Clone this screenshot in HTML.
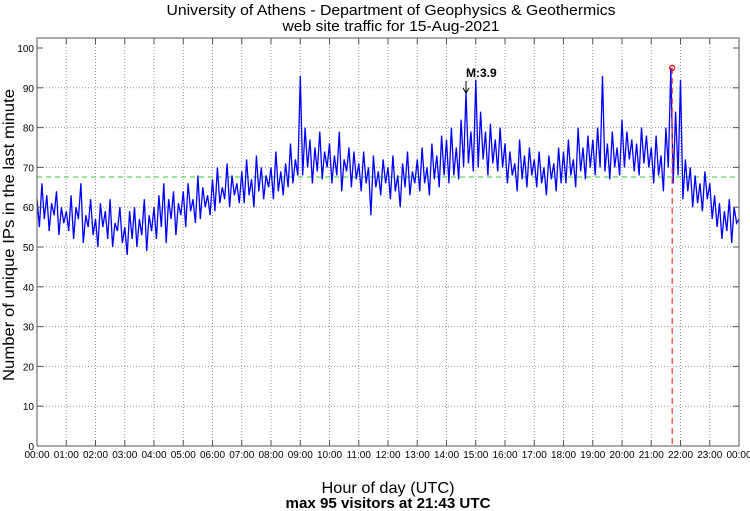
<!DOCTYPE html>
<html><head><meta charset="utf-8"><style>
html,body{margin:0;padding:0;background:#fff;}
svg{display:block;font-family:"Liberation Sans Narrow","Liberation Sans",sans-serif;}
</style></head><body>
<svg id="chart" width="750" height="511" viewBox="0 0 750 511" xmlns="http://www.w3.org/2000/svg">
<rect width="750" height="511" fill="#fff"/>
<text x="391" y="15" text-anchor="middle" font-size="15" textLength="449" lengthAdjust="spacingAndGlyphs">University of Athens - Department of Geophysics &amp; Geothermics</text>
<text x="391" y="31" text-anchor="middle" font-size="15" textLength="217" lengthAdjust="spacingAndGlyphs">web site traffic for 15-Aug-2021</text>
<g id="grid"></g>
<line x1="37" x2="739" y1="177" y2="177" stroke="#3c3" stroke-width="1" stroke-dasharray="5,4"/>
<g id="series"></g>
<g id="axes"></g>
<text x="466" y="77" font-size="12" font-weight="bold" font-family="Liberation Sans, sans-serif">M:3.9</text>
<line x1="466" y1="81" x2="466" y2="92" stroke="#000" stroke-width="1"/>
<path d="M463,88 L466,93 L469,88" fill="none" stroke="#000"/>
<text transform="translate(14,235) rotate(-90)" text-anchor="middle" font-size="16" textLength="292" lengthAdjust="spacingAndGlyphs">Number of unique IPs in the last minute</text>
<text x="388" y="493" text-anchor="middle" font-size="16" textLength="133" lengthAdjust="spacingAndGlyphs">Hour of day (UTC)</text>
<text x="388" y="508" text-anchor="middle" font-size="15" font-weight="bold" textLength="205" lengthAdjust="spacingAndGlyphs">max 95 visitors at 21:43 UTC</text>
</svg>
<script>
const values = [
62,55,66,57,63,54,61,58,64,53,60,56,
59,54,63,52,60,57,66,51,58,55,62,53,
57,50,61,55,59,52,62,50,56,54,60,51,
55,48,59,52,60,50,57,53,62,49,58,54,
60,52,63,55,66,51,62,57,64,53,61,58,
64,55,66,59,62,56,68,57,65,60,63,58,
67,59,70,61,65,62,71,60,68,63,66,61,
69,61,72,63,67,60,73,64,70,62,68,65,
70,62,74,64,69,63,71,65,76,66,72,68,
93,68,80,70,77,66,75,69,79,67,74,70,
76,66,73,68,79,64,72,69,75,65,74,67,
71,64,74,66,70,58,73,65,69,63,72,66,
70,62,73,64,68,60,71,65,74,63,69,66,
72,64,75,66,70,63,76,67,73,65,78,68,
77,66,80,68,75,67,82,70,89,71,79,69,
92,70,84,72,79,68,81,71,77,69,80,70,
76,66,74,68,71,64,77,67,73,65,75,68,
72,65,74,66,70,63,73,67,71,64,75,66,
74,66,77,68,72,65,80,69,75,67,78,70,
77,68,80,70,93,69,76,67,79,70,75,68,
82,70,79,72,77,69,76,68,80,71,78,70,
75,66,78,68,73,64,80,70,95,66,84,68,
92,62,72,64,70,60,68,61,66,59,69,62,
66,57,63,55,61,52,59,54,62,51,60,56,
57];
const yTicks = [0,10,20,30,40,50,60,70,80,90,100];
const xTickLabels = ["00:00","01:00","02:00","03:00","04:00","05:00","06:00","07:00","08:00","09:00","10:00","11:00","12:00","13:00","14:00","15:00","16:00","17:00","18:00","19:00","20:00","21:00","22:00","23:00","00:00"];
const stepMinutes = 5;

const NS="http://www.w3.org/2000/svg";
const L=37,R=739,T=38,B=446;
const xScale = m => L + (m/1440)*(R-L);
const yScale = v => 446 - v*3.98;
function mk(tag, attrs, parent){const e=document.createElementNS(NS,tag);for(const k in attrs)e.setAttribute(k,attrs[k]);parent.appendChild(e);return e;}
const grid=document.getElementById('grid'), axes=document.getElementById('axes'), series=document.getElementById('series');

yTicks.forEach(v=>{
  const y=yScale(v);
  if(v>0&&v<100){const g=mk('line',{x1:L,x2:R,y1:y,y2:y,stroke:'#999','stroke-dasharray':'1,2'},grid);
  
  }
  const t1=mk('line',{x1:L,x2:L+6,y1:y,y2:y,stroke:'#555'},axes);
  
  
  const t2=mk('line',{x1:R-6,x2:R,y1:y,y2:y,stroke:'#555'},axes);
  
  
  const lab=mk('text',{x:L-3,y:y+4,'text-anchor':'end','font-size':'10'},axes);
  lab.textContent=v;
  
  
});
xTickLabels.forEach((s,i)=>{
  const x=xScale(i*60);
  if(i>0&&i<24){const g=mk('line',{x1:x,x2:x,y1:T,y2:B,stroke:'#999','stroke-dasharray':'1,2'},grid);
  
  }
  const t1=mk('line',{x1:x,x2:x,y1:B-6,y2:B,stroke:'#555'},axes);
  
  
  const t2=mk('line',{x1:x,x2:x,y1:T,y2:T+6,stroke:'#555'},axes);
  
  
  const lab=mk('text',{x:x,y:B+12,'text-anchor':'middle','font-size':'10'},axes);
  lab.textContent=s;
  
  
});
const box=mk('rect',{x:L,y:T,width:R-L,height:B-T,fill:'none',stroke:'#555'},axes);



const pts=values.map((v,i)=>xScale(i*stepMinutes).toFixed(1)+','+yScale(v).toFixed(1)).join(' ');
const line=mk('polyline',{points:pts,fill:'none',stroke:'#00f','stroke-width':'1.3'},series);



let mi=0; values.forEach((v,i)=>{if(v>values[mi])mi=i;});
const mx=xScale(mi*stepMinutes)+3*(R-L)/1440, my=yScale(values[mi]);
const vl=mk('line',{x1:mx,x2:mx,y1:my,y2:B,stroke:'#f33','stroke-width':'1.2','stroke-dasharray':'6,4'},series);


const mc=mk('circle',{cx:mx,cy:my,r:2.5,fill:'none',stroke:'#f00','stroke-width':'1.2'},series);


</script>
</body></html>
